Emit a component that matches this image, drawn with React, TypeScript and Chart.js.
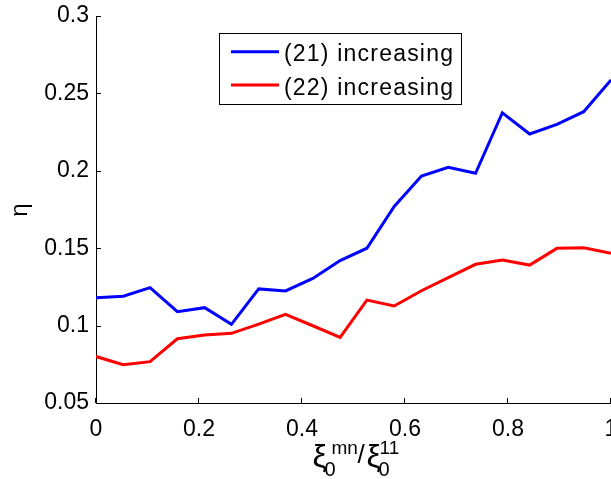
import React, { useEffect, useRef } from "react";
import { Chart, registerables } from "chart.js";

Chart.register(...registerables);

const xValues = [0, 0.053, 0.105, 0.158, 0.211, 0.263, 0.316, 0.368, 0.421, 0.474, 0.526, 0.579, 0.632, 0.684, 0.737, 0.789, 0.842, 0.895, 0.947, 1];
const series21 = [0.118, 0.119, 0.1245, 0.109, 0.1116, 0.1008, 0.1237, 0.1224, 0.1305, 0.142, 0.15, 0.177, 0.1966, 0.2022, 0.1984, 0.2375, 0.2238, 0.23, 0.2382, 0.2587];
const series22 = [0.08, 0.0747, 0.0767, 0.0915, 0.0939, 0.095, 0.101, 0.1073, 0.0999, 0.0924, 0.1165, 0.1127, 0.1225, 0.131, 0.1396, 0.1424, 0.1391, 0.1499, 0.1503, 0.1467];
const seriesNames = ["(21) increasing", "(22) increasing"];
const seriesColors = ["#0000ff", "#ff0000"];
const xTickLabels = ["0", "0.2", "0.4", "0.6", "0.8", "1"];
const yTickLabels = ["0.05", "0.1", "0.15", "0.2", "0.25", "0.3"];

const FONT = '"Liberation Sans", Arial, Helvetica, sans-serif';

const overlayPlugin = {
  id: "overlay",
  afterDraw(chart: any) {
    const ctx = chart.ctx as CanvasRenderingContext2D;
    const area = chart.chartArea;
    const xs = chart.scales.x;
    const ys = chart.scales.y;
    ctx.save();
    // inward ticks
    ctx.strokeStyle = "#000";
    ctx.lineWidth = 1;
    ctx.beginPath();
    xs.ticks.forEach((t: any) => {
      const px = Math.round(xs.getPixelForValue(t.value)) - 0.5;
      ctx.moveTo(px, area.bottom);
      ctx.lineTo(px, area.bottom - 5);
    });
    ys.ticks.forEach((t: any) => {
      const py = Math.round(ys.getPixelForValue(t.value)) + 0.5;
      ctx.moveTo(area.left, py);
      ctx.lineTo(area.left + 5, py);
    });
    ctx.stroke();

    // legend
    const lx = 219.5, ly = 33.5, lw = 242, lh = 71;
    ctx.fillStyle = "#fff";
    ctx.fillRect(lx, ly, lw, lh);
    ctx.strokeStyle = "#000";
    ctx.lineWidth = 1;
    ctx.strokeRect(lx, ly, lw, lh);
    const rows = [51.7, 85];
    const baselines = [61, 94.5];
    ctx.font = `23px ${FONT}`;
    ctx.textBaseline = "alphabetic";
    ctx.textAlign = "left";
    (ctx as any).letterSpacing = "1.2px";
    seriesNames.forEach((name, i) => {
      ctx.strokeStyle = seriesColors[i];
      ctx.lineWidth = 3;
      ctx.beginPath();
      ctx.moveTo(231, rows[i]);
      ctx.lineTo(279, rows[i]);
      ctx.stroke();
      ctx.fillStyle = "#000";
      ctx.fillText(name, 284, baselines[i]);
    });
    (ctx as any).letterSpacing = "0px";

    // y title (eta)
    ctx.save();
    ctx.translate(27, 210);
    ctx.rotate(-Math.PI / 2);
    ctx.font = `24px ${FONT}`;
    ctx.textAlign = "center";
    ctx.textBaseline = "alphabetic";
    ctx.fillStyle = "#000";
    ctx.fillText("η", 0, 0);
    ctx.restore();

    // x title  ξ_0^{mn}/ξ_0^{11}
    const cx = (area.left + area.right) / 2;
    const x0 = cx - 41;
    ctx.fillStyle = "#000";
    ctx.textAlign = "left";
    ctx.textBaseline = "alphabetic";
    ctx.font = `32px ${FONT}`;
    ctx.fillText("ξ", x0, 467);
    ctx.font = `19px ${FONT}`;
    ctx.fillText("mn", x0 + 19, 454);
    ctx.font = `20px ${FONT}`;
    ctx.fillText("0", x0 + 12, 476);
    ctx.font = `26px ${FONT}`;
    ctx.fillText("/", x0 + 45, 463);
    ctx.font = `32px ${FONT}`;
    ctx.fillText("ξ", x0 + 54, 467);
    ctx.font = `19px ${FONT}`;
    ctx.fillText("11", x0 + 67, 454);
    ctx.font = `20px ${FONT}`;
    ctx.fillText("0", x0 + 66, 476);
    ctx.restore();
  },
};

export default function App() {
  const canvasRef = useRef<HTMLCanvasElement | null>(null);

  useEffect(() => {
    document.body.style.margin = "0";
    const canvas = canvasRef.current;
    if (!canvas) return;
    const chart = new Chart(canvas, {
      type: "line",
      data: {
        datasets: [
          {
            label: seriesNames[0],
            data: xValues.map((x, i) => ({ x, y: series21[i] })),
            borderColor: seriesColors[0],
            backgroundColor: seriesColors[0],
            borderWidth: 3,
            pointRadius: 0,
            tension: 0,
          },
          {
            label: seriesNames[1],
            data: xValues.map((x, i) => ({ x, y: series22[i] })),
            borderColor: seriesColors[1],
            backgroundColor: seriesColors[1],
            borderWidth: 3,
            pointRadius: 0,
            tension: 0,
          },
        ],
      },
      options: {
        animation: false,
        responsive: false,
        devicePixelRatio: 1,
        layout: { padding: { top: 16, left: 0, right: 0, bottom: 0 } },
        plugins: {
          legend: { display: false },
          tooltip: { enabled: false },
          title: { display: false },
        },
        scales: {
          x: {
            type: "linear",
            min: 0,
            max: 1,
            grid: { display: false, drawTicks: false },
            border: { display: true, color: "#000", width: 1 },
            ticks: {
              stepSize: 0.2,
              padding: 13,
              maxRotation: 0,
              autoSkip: false,
              color: "#000",
              font: { family: FONT, size: 23 },
              callback: (_v: any, i: number) => xTickLabels[i],
            },
            afterFit: (scale: any) => {
              scale.height = 76;
              scale.paddingLeft = 0;
              scale.paddingRight = 0;
            },
          },
          y: {
            min: 0.05,
            max: 0.3,
            grid: { display: false, drawTicks: false },
            border: { display: true, color: "#000", width: 1 },
            ticks: {
              stepSize: 0.05,
              padding: 7,
              color: "#000",
              font: { family: FONT, size: 23 },
              callback: (_v: any, i: number) => yTickLabels[i],
            },
            afterFit: (scale: any) => {
              scale.width = 96;
              scale.paddingTop = 0;
              scale.paddingBottom = 0;
            },
          },
        },
      },
      plugins: [overlayPlugin],
    });
    return () => chart.destroy();
  }, []);

  return (
    <div style={{ width: 611, height: 479 }}>
      <canvas ref={canvasRef} width={611} height={479} style={{ display: "block", width: 611, height: 479 }} />
    </div>
  );
}
